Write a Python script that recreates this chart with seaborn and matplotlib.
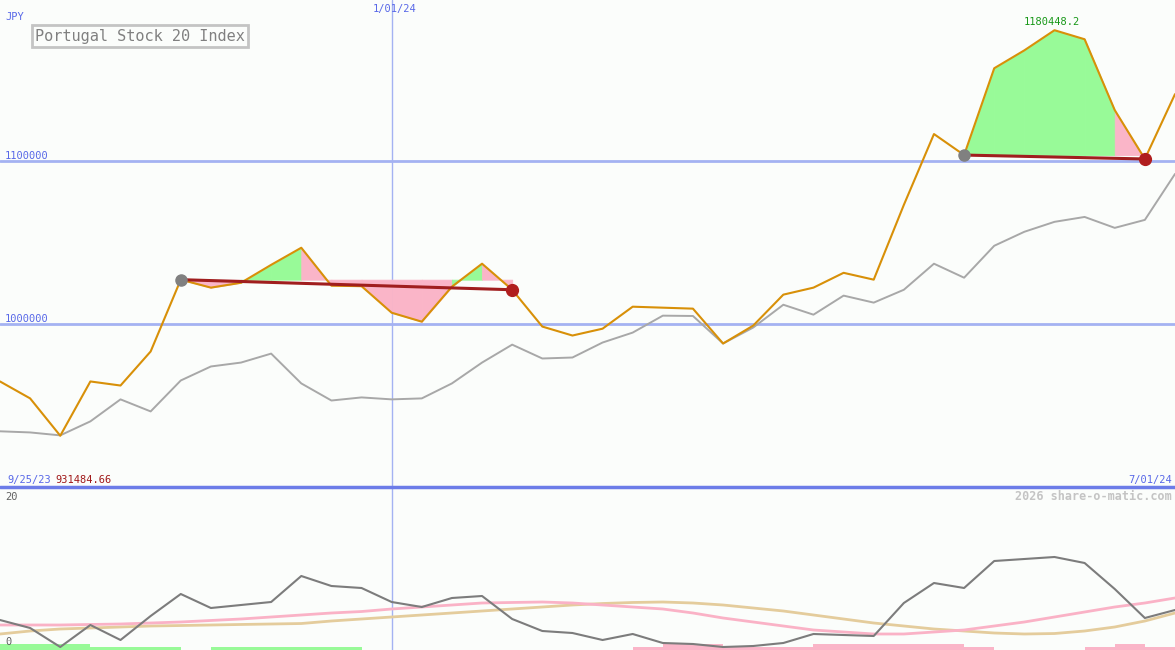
import matplotlib
matplotlib.use("Agg")
import matplotlib.pyplot as plt
import seaborn as sns

# weekly closes, 40 weeks
weeks = list(range(40))
index_close = [964800, 954400, 931485, 964800, 962300, 983200, 1027300, 1022400,
               1025400, 1036400, 1046900, 1023600, 1023300, 1007000, 1001500, 1023000,
               1037100, 1021100, 998500, 993000, 997200, 1010700, 1010100, 1009500,
               988100, 999100, 1018100, 1022400, 1031500, 1027300, 1073200, 1116700,
               1103800, 1157100, 1168100, 1180448.2, 1174900, 1131400, 1101400, 1141200]
compare_close = [934200, 933500, 931700, 940300, 953800, 946400, 965400, 974000,
                 976400, 981900, 963600, 953100, 955000, 953800, 954400, 963600,
                 976400, 987400, 978900, 979500, 988700, 994800, 1005200, 1005000,
                 988100, 997900, 1011900, 1005800, 1017500, 1013200, 1021100, 1037100,
                 1028500, 1048100, 1056700, 1062800, 1065800, 1059100, 1064000, 1092200]

# lower panel oscillator (0..20)
osc = [3.75, 2.75, 0.375, 3.125, 1.25, 4.25, 7.0, 5.25, 5.625, 6.0,
       9.25, 8.0, 7.75, 6.0, 5.375, 6.5, 6.75, 3.875, 2.375, 2.125,
       1.25, 2.0, 0.875, 0.75, 0.375, 0.5, 0.875, 2.0, 1.875, 1.75,
       5.875, 8.375, 7.75, 11.125, 11.375, 11.625, 10.875, 7.625, 4.0, 5.0]
osc_fast = [3.125, 3.125, 3.125, 3.19, 3.25, 3.375, 3.5, 3.69, 3.875, 4.125,
            4.375, 4.625, 4.81, 5.125, 5.375, 5.625, 5.875, 5.94, 6.0, 5.875,
            5.625, 5.375, 5.125, 4.625, 4.0, 3.5, 3.0, 2.5, 2.25, 2.0,
            2.0, 2.25, 2.5, 3.0, 3.5, 4.125, 4.75, 5.375, 5.875, 6.5]
osc_slow = [2.0, 2.375, 2.625, 2.75, 2.875, 3.0, 3.06, 3.125, 3.19, 3.25,
            3.31, 3.625, 3.875, 4.125, 4.375, 4.625, 4.875, 5.125, 5.375, 5.625,
            5.81, 5.94, 6.0, 5.875, 5.625, 5.25, 4.875, 4.375, 3.875, 3.375,
            3.0, 2.625, 2.375, 2.125, 2.0, 2.06, 2.375, 2.875, 3.625, 4.625]
# signal bars per week segment: + green, - pink
signal = [0.75, 0.75, 0.75, 0.375, 0.375, 0.375, 0, 0.375, 0.375, 0.375,
          0.375, 0.375, 0, 0, 0, 0, 0, 0, 0, 0,
          0, -0.375, -0.75, -0.75, -0.375, -0.375, -0.375, -0.75, -0.75, -0.75,
          -0.75, -0.75, -0.375, 0, 0, 0, -0.375, -0.75, -0.375]

# trade windows (start week, end week) and per-segment shading
trade_windows = [(6, 17), (32, 38)]
trade_shading = ["ppggpppppgp", "gggggp"]

BG = "#fbfdfb"
BLUE_GRID = "#a4b2f2"
BLUE_TXT = "#5868e8"
GREEN = "#98fa98"
PINK = "#fab5c8"
ORANGE = "#d89008"

sns.set_style("white")
plt.rcParams["font.family"] = ["DejaVu Sans Mono", "DejaVu Sans"]

fig = plt.figure(figsize=(11.75, 6.5), dpi=100)
fig.patch.set_facecolor(BG)
ax = fig.add_axes([0, 163 / 650, 1, 487 / 650])
lo = fig.add_axes([0, 0, 1, 163 / 650])
for a in (ax, lo):
    a.set_xlim(0, 39)
    a.set_axis_off()
ax.set_ylim(900000, 1199000)
lo.set_ylim(0, 20.375)

# grid
for lvl in (1000000, 1100000):
    ax.axhline(lvl, color=BLUE_GRID, lw=2, zorder=1)
ax.axvline(13, color=BLUE_GRID, lw=1, zorder=1)
lo.axvline(13, color=BLUE_GRID, lw=1, zorder=1)
lo.axhline(20.375, color="#6c7ce8", lw=2.5, clip_on=False, zorder=5)

# trade shading
shade = {"g": GREEN, "p": PINK}
for (s, e), cols in zip(trade_windows, trade_shading):
    level = index_close[s]
    for k, c in enumerate(cols):
        i = s + k
        ax.fill_between([i, i + 1], [index_close[i], index_close[i + 1]], level,
                        facecolor=shade[c], edgecolor=shade[c], lw=0.6, zorder=2)

sns.lineplot(x=weeks, y=compare_close, ax=ax, color="#a8a8a8", lw=1.4, zorder=3)
sns.lineplot(x=weeks, y=index_close, ax=ax, color=ORANGE, lw=1.5, zorder=4)

for s, e in trade_windows:
    ax.plot([s, e], [index_close[s], index_close[e]], color="#a01e1e", lw=2.2, zorder=5)
    ax.plot([s], [index_close[s]], "o", ms=8, color="#808080", zorder=6)
    ax.plot([e], [index_close[e]], "o", ms=8.5, color="#b01e1e", zorder=6)

# lower panel
for i, h in enumerate(signal):
    if h:
        lo.bar(i, abs(h), width=1, align="edge", color=GREEN if h > 0 else PINK,
               lw=0, zorder=2)
sns.lineplot(x=weeks, y=osc_slow, ax=lo, color="#e4cc9c", lw=2, zorder=3)
sns.lineplot(x=weeks, y=osc_fast, ax=lo, color="#fab2c6", lw=2, zorder=3)
sns.lineplot(x=weeks, y=osc, ax=lo, color="#7c7c7c", lw=1.5, zorder=4)


def px(x, y):
    return x / 1175, 1 - y / 650


fs = 7.5
fig.text(*px(5, 20), "JPY", color=BLUE_TXT, fontsize=fs, va="baseline")
fig.text(*px(395, 12), "1/01/24", color=BLUE_TXT, fontsize=fs, ha="center", va="baseline")
fig.text(*px(5, 159), "1100000", color=BLUE_TXT, fontsize=fs, va="baseline")
fig.text(*px(5, 322), "1000000", color=BLUE_TXT, fontsize=fs, va="baseline")
fig.text(*px(7, 483), "9/25/23", color=BLUE_TXT, fontsize=fs, va="baseline")
fig.text(*px(55, 483), "931484.66", color="#a01818", fontsize=fs, va="baseline")
fig.text(*px(1172, 483), "7/01/24", color=BLUE_TXT, fontsize=fs, ha="right", va="baseline")
fig.text(*px(1172, 500), "2026 share-o-matic.com", color="#c4c4c4", fontsize=8.5,
         ha="right", va="baseline", fontweight="bold")
fig.text(*px(5, 500), "20", color="#606060", fontsize=fs, va="baseline")
fig.text(*px(5, 645), "0", color="#606060", fontsize=fs, va="baseline")
fig.text(*px(1052, 25), "1180448.2", color="#189818", fontsize=fs, ha="center", va="baseline")
fig.text(*px(140, 36), "Portugal Stock 20 Index", color="#808080", fontsize=11,
         ha="center", va="center",
         bbox=dict(boxstyle="square,pad=0.2", facecolor=BG, edgecolor="#c4c4c4", lw=2))

fig.savefig("out.png", dpi=100, facecolor=BG)
